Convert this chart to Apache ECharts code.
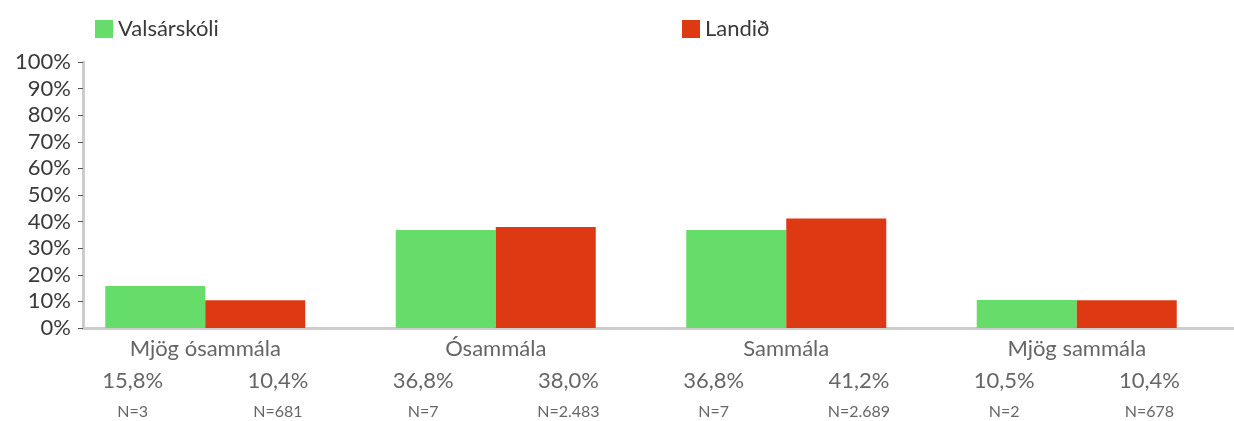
<!DOCTYPE html>
<html>
<head>
<meta charset="utf-8">
<script src="https://cdn.jsdelivr.net/npm/echarts@6/dist/echarts.min.js"></script>
<style>
    html, body { margin: 0; padding: 0; background: #fff; }
    #chart { width: 1234px; height: 421px; }
</style>
</head>
<body>
<div id="chart"></div>
<script>
const categories = ['Mjög ósammála', 'Ósammála', 'Sammála', 'Mjög sammála'];
const seriesNames = ['Valsárskóli', 'Landið'];
const schoolValues = [15.8, 36.8, 36.8, 10.5];
const countryValues = [10.4, 38.0, 41.2, 10.4];
const schoolN = ['3', '7', '7', '2'];
const countryN = ['681', '2.483', '2.689', '678'];

const green = '#66dd6a';
const red = '#dd3a14';
const font = 'Lato';

// one slot per bar for the percent / N rows
const pairLabels = [];
categories.forEach((c, i) => {
    pairLabels.push('{p|' + schoolValues[i].toFixed(1).replace('.', ',') + '%}\n{n|N=' + schoolN[i] + '}');
    pairLabels.push('{p|' + countryValues[i].toFixed(1).replace('.', ',') + '%}\n{n|N=' + countryN[i] + '}');
});

const option = {
    animation: false,
    textStyle: { fontFamily: font },
    legend: [
        {
            left: 90, top: 13,
            itemWidth: 18, itemHeight: 18,
            icon: 'rect',
            textStyle: { fontSize: 22, color: '#3a3a3a', fontFamily: font },
            data: [seriesNames[0]]
        },
        {
            left: 677, top: 13,
            itemWidth: 18, itemHeight: 18,
            icon: 'rect',
            textStyle: { fontSize: 22, color: '#3a3a3a', fontFamily: font },
            data: [seriesNames[1]]
        }
    ],
    grid: [
        { left: 60, right: 12, top: 62, bottom: 93 },
        { left: 83, right: 0, top: 62, bottom: 93 }
    ],
    xAxis: [
        {
            type: 'category',
            gridIndex: 0,
            data: categories,
            axisLine: { show: false },
            axisTick: { show: false },
            axisLabel: { fontSize: 22, color: '#666', margin: 10, fontFamily: font }
        },
        {
            type: 'category',
            gridIndex: 0,
            position: 'bottom',
            data: pairLabels,
            axisLine: { show: false },
            axisTick: { show: false },
            axisLabel: {
                margin: 38,
                interval: 0,
                rich: {
                    p: { fontSize: 22, color: '#666', lineHeight: 30, fontFamily: font },
                    n: { fontSize: 16, color: '#666', lineHeight: 32, fontFamily: font }
                }
            }
        },
        {
            type: 'category',
            gridIndex: 1,
            data: categories,
            axisLine: { lineStyle: { color: '#cccccc', width: 3 } },
            axisTick: { show: false },
            axisLabel: { show: false }
        }
    ],
    yAxis: [
        {
            type: 'value',
            gridIndex: 0,
            min: 0, max: 100, interval: 10,
            show: false
        },
        {
            type: 'value',
            gridIndex: 1,
            min: 0, max: 100, interval: 10,
            axisLine: { show: true, lineStyle: { color: '#cccccc', width: 3 } },
            axisTick: { show: true, length: 5, lineStyle: { color: '#555', width: 1 } },
            splitLine: { show: false },
            axisLabel: { formatter: '{value}%', fontSize: 22, color: '#3a3a3a', margin: 12, fontFamily: font }
        }
    ],
    series: [
        {
            name: seriesNames[0],
            type: 'bar',
            xAxisIndex: 0, yAxisIndex: 0,
            barWidth: 100,
            barGap: 0,
            itemStyle: { color: green },
            data: schoolValues
        },
        {
            name: seriesNames[1],
            type: 'bar',
            xAxisIndex: 0, yAxisIndex: 0,
            barWidth: 100,
            barGap: 0,
            itemStyle: { color: red },
            data: countryValues
        }
    ]
};

const chart = echarts.init(document.getElementById('chart'));
chart.setOption(option);
window.addEventListener('resize', function () {
    chart.resize();
});
</script>
</body>
</html>
